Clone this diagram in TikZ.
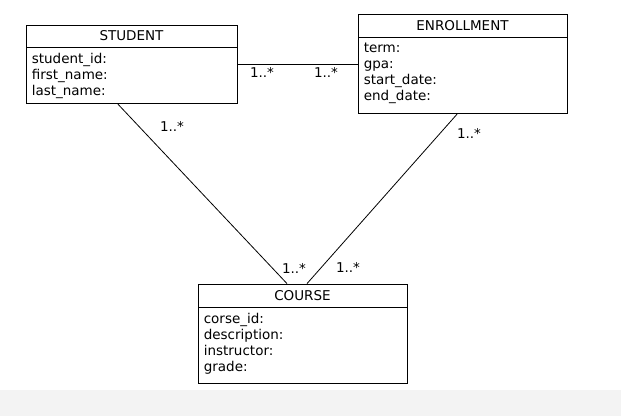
\documentclass[tikz,border=0pt]{standalone}
\usepackage{fontspec}
\setmainfont{DejaVu Sans}
\usetikzlibrary{positioning}
\definecolor{barbg}{RGB}{243,243,243}

\tikzset{
  classhead/.style={draw, line width=0.8pt, minimum width=210pt, minimum height=23pt, inner sep=0pt, text height=9.8pt, text depth=0pt, font=\fontsize{13.5}{16}\selectfont},
  classbody/.style={draw, line width=0.8pt, minimum width=210pt, inner sep=0pt},
  attrlist/.style={align=left, inner sep=0pt, anchor=north west, font=\fontsize{13.5}{16}\selectfont},
  mult/.style={inner sep=0pt, anchor=base, font=\fontsize{13.5}{16}\selectfont},
  assoc/.style={line width=0.8pt}
}

\begin{document}
\begin{tikzpicture}[x=1pt, y=-1pt]
        \useasboundingbox (0,0) rectangle (621,416);
        \fill[barbg] (0,390) rectangle (621,416);

        % Classes
        \node[classhead, minimum width=211pt, minimum height=22pt] (student) at (131.5,36) {STUDENT};
        \node[classbody, minimum width=211pt, minimum height=56pt, below=0pt of student] (studentbody) {};
        \node[attrlist] (studentattr) at ([xshift=6pt, yshift=-5.5pt]studentbody.north west) {student\_id:\\first\_name:\\last\_name:};

        \node[classhead, minimum width=209pt] (enroll) at (462.5,25.5) {ENROLLMENT};
        \node[classbody, minimum width=209pt, minimum height=76pt, below=0pt of enroll] (enrollbody) {};
        \node[attrlist] (enrollattr) at ([xshift=6pt, yshift=-5.5pt]enrollbody.north west) {term:\\gpa:\\start\_date:\\end\_date:};

        \node[classhead, minimum width=209pt] (course) at (302.5,295.5) {COURSE};
        \node[classbody, minimum width=209pt, minimum height=76pt, below=0pt of course] (coursebody) {};
        \node[attrlist] (courseattr) at ([xshift=6pt, yshift=-5.5pt]coursebody.north west) {corse\_id:\\description:\\instructor:\\grade:};

        % Associations
        \draw[assoc] ([yshift=11pt]studentbody.east) -- ([yshift=11pt]enrollbody.west);
        \draw[assoc] ([xshift=-13.5pt]studentbody.south) -- ([xshift=-15.5pt]course.north);
        \draw[assoc] ([xshift=-5.5pt]enrollbody.south) -- ([xshift=4.5pt]course.north);

        % Multiplicities
        \node[mult] (m1) at (262,77) {1..*};
        \node[mult] (m2) at (326,77) {1..*};
        \node[mult] (m3) at (172,131) {1..*};
        \node[mult] (m4) at (294,273) {1..*};
        \node[mult] (m5) at (348,272) {1..*};
        \node[mult] (m6) at (469,138) {1..*};

    \end{tikzpicture}
\end{document}
